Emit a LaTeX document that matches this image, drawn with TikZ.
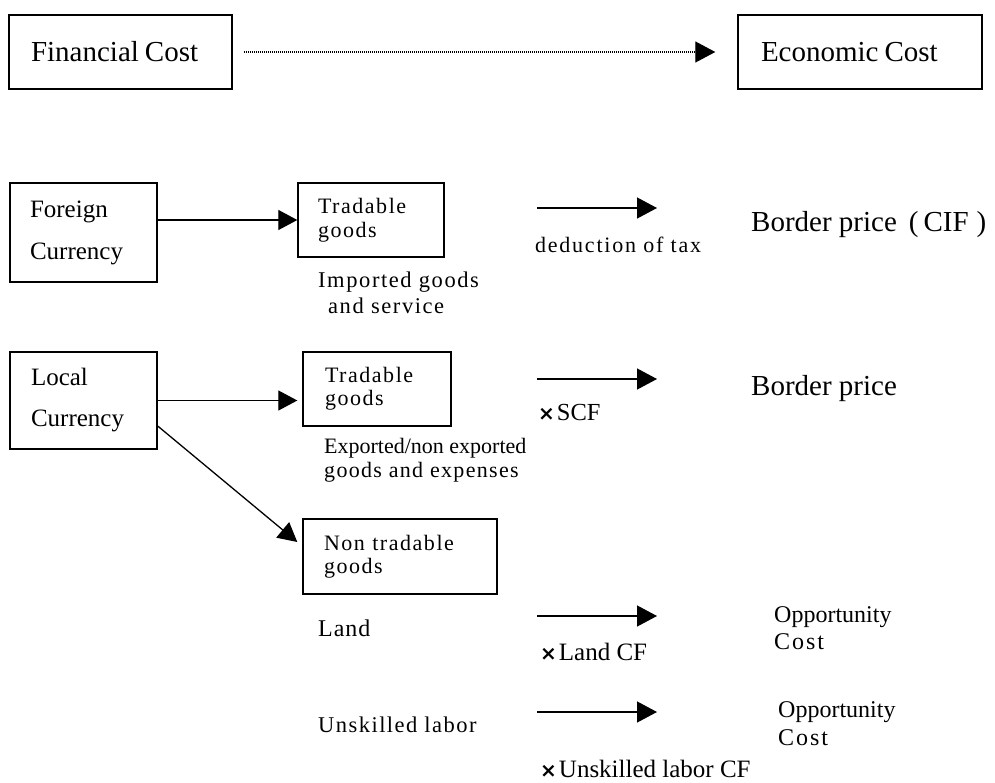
\documentclass[tikz,border=0pt]{standalone}
\usepackage{fontspec}
\setmainfont{Liberation Serif}
\newfontfamily\symbolfont{DejaVu Sans}
\usetikzlibrary{arrows.meta}

% font size in pt (1pt = one unit of the drawing), and optional tracking
\newcommand{\sized}[2]{\fontsize{#1}{#2}\selectfont}
\newcommand{\spaced}[1]{\addfontfeatures{LetterSpace=#1}}
\newcommand{\timesmark}{{\symbolfont\bfseries\fontsize{20}{20}\selectfont ×}\hspace{2pt}}

\tikzset{
  box/.style={draw, line width=1.4pt, rectangle, align=left, inner ysep=0pt},
  lbl/.style={anchor=base west, inner sep=0pt},
  conn/.style={line width=1.3pt, -{Triangle[length=19pt,width=20pt]}},
  conv/.style={line width=1.3pt, -{Triangle[length=20pt,width=21pt]}},
}

\begin{document}
\begin{tikzpicture}[x=1pt, y=-1pt]
\useasboundingbox[fill=white] (0,0) rectangle (995,782);

% --- top row: financial vs economic cost
\node[box, text width=179pt, inner xsep=22pt, minimum height=74pt,
      font=\sized{29}{34}] (fin) at (120.5,52) {Financial\hspace{6pt}Cost};
\node[box, text width=198pt, inner xsep=23pt, minimum height=74pt,
      font=\sized{29}{34}] (eco) at (860,52) {Economic\hspace{6pt}Cost};
\draw[line width=1.1pt, dash pattern=on 1pt off 1pt,
      -{Triangle[length=20pt,width=21pt]},
      shorten <=11pt, shorten >=22pt] (fin.east) -- (eco.west);

% --- foreign currency branch
\node[box, text width=107pt, inner xsep=20pt, minimum height=99pt,
      font=\sized{25}{42}] (foreign) at (83.5,232.5) {Foreign\\Currency};
\node[box, text width=106pt, inner xsep=20pt, minimum height=74pt,
      font={\sized{22}{24}\spaced{7}}] (trad1) at (371,220) {Tradable\\goods};
\draw[conn] (foreign.east |- trad1.west) -- (trad1.west);

\node[lbl, font={\sized{22.5}{26}\spaced{7}}] (imp1) at (318,287) {Imported goods};
\node[lbl, font={\sized{22.5}{26}\spaced{7}}] (imp2) at (328,313) {and service};

\coordinate (c1s) at (537,208);
\coordinate (c1e) at (657,208);
\draw[conv] (c1s) -- (c1e);
\node[lbl, font={\sized{22}{26}\spaced{8}}] (tax) at (535,252) {deduction of tax};
\node[lbl, font=\sized{29}{34}] (bpcif) at (751,231)
  {Border price\hspace{12pt}(\hspace{5pt}CIF\hspace{8pt})};

% --- local currency branch
\node[box, text width=105pt, inner xsep=21pt, minimum height=97pt,
      font=\sized{25}{41}] (local) at (83.5,400.5) {Local\\Currency};
\node[box, text width=104pt, inner xsep=22pt, minimum height=74pt,
      font={\sized{22}{23}\spaced{7}}] (trad2) at (377,389) {Tradable\\goods};
\node[box, text width=152pt, inner xsep=21pt, minimum height=75pt,
      font={\sized{22}{23}\spaced{7}}] (nontrad) at (400,556.5) {Non tradable\\goods};
\draw[conn, shorten >=5pt] (local.east) -- (local.east -| trad2.west);
\draw[conn] ([yshift=-25.5pt]local.east) -- ([xshift=-5pt,yshift=14.5pt]nontrad.west);

\node[lbl, font=\sized{22}{24}] (exp1) at (324,453) {Exported/non exported};
\node[lbl, font={\sized{22}{24}\spaced{6}}] (exp2) at (324,477) {goods and expenses};

\coordinate (c2s) at (537,379);
\coordinate (c2e) at (657,379);
\draw[conv] (c2s) -- (c2e);
\node[lbl, font=\sized{24.5}{28}] (scf) at (538,420) {\timesmark SCF};
\node[lbl, font=\sized{29}{34}] (bp) at (751,395) {Border price};

% --- land
\node[lbl, font={\sized{24}{28}\spaced{4}}] (land) at (318,636) {Land};
\coordinate (c3s) at (537,616);
\coordinate (c3e) at (657,616);
\draw[conv] (c3s) -- (c3e);
\node[lbl, font=\sized{25}{28}] (landcf) at (540,660) {\timesmark Land CF};
\node[lbl, font=\sized{24}{28}] (opp1) at (774,622) {Opportunity};
\node[lbl, font={\sized{24}{28}\spaced{8}}] (cost1) at (774,649) {Cost};

% --- unskilled labour
\node[lbl, font={\sized{22.5}{26}\spaced{6.5}}] (labor) at (318,732) {Unskilled labor};
\coordinate (c4s) at (537,712);
\coordinate (c4e) at (657,712);
\draw[conv] (c4s) -- (c4e);
\node[lbl, font=\sized{24}{28}] (opp2) at (778,717) {Opportunity};
\node[lbl, font={\sized{24}{28}\spaced{8}}] (cost2) at (778,745) {Cost};
\node[lbl, font=\sized{25}{28}] (laborcf) at (540,777) {\timesmark Unskilled labor CF};

\end{tikzpicture}
\end{document}
